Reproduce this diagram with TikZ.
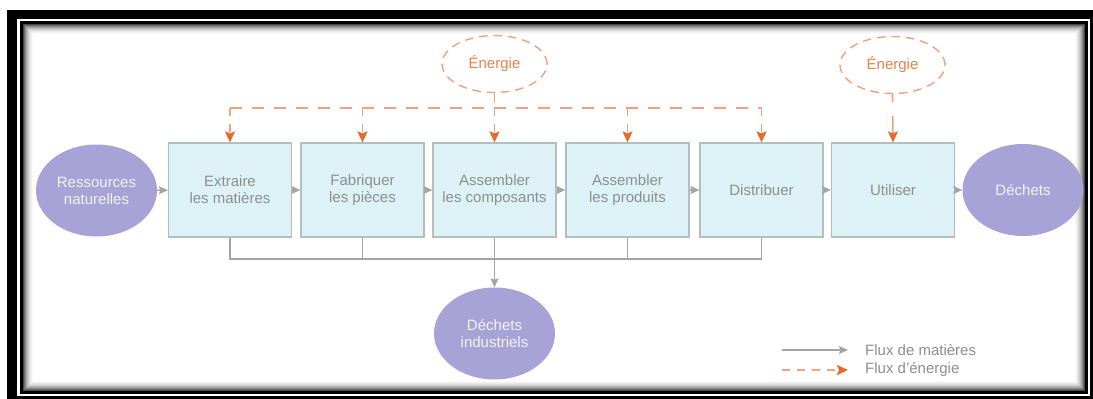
\documentclass[tikz,border=0pt]{standalone}
\usepackage{fontspec}
\setmainfont{Liberation Sans}
\usetikzlibrary{arrows.meta,shapes.geometric}
\definecolor{boxfill}{HTML}{DDF2F6}
\definecolor{boxline}{HTML}{B4BEC0}
\definecolor{lav}{HTML}{A8A3D6}
\definecolor{lavtext}{HTML}{F4F2FB}
\definecolor{txtgray}{HTML}{8E8E8E}
\definecolor{flowgray}{HTML}{A4A4A4}
\definecolor{orangedark}{HTML}{E8692A}
\definecolor{orangelight}{HTML}{F0A27A}
\definecolor{orangetxt}{HTML}{E4824C}

\begin{document}
\begin{tikzpicture}[x=1pt,y=-1pt,
  every node/.style={font=\fontsize{15}{17}\selectfont, inner sep=0pt},
  procbox/.style={rectangle, fill=boxfill, draw=boxline, line width=1.2pt,
    minimum width=123pt, minimum height=94pt, text=txtgray, align=center},
  resource/.style={ellipse, fill=lav, text=lavtext, align=center,
    minimum width=121pt, minimum height=92pt},
  energy/.style={ellipse, draw=orangelight, dash pattern=on 8.5pt off 5.9pt,
    line width=1.4pt, text=orangetxt, minimum width=105pt, minimum height=57pt},
  matflow/.style={draw=flowgray, line width=1.4pt},
  matarrow/.style={matflow, -{Stealth[length=9pt,width=8pt,inset=1.5pt]}},
  enflow/.style={draw=orangelight, line width=1.6pt, dash pattern=on 12pt off 10pt},
  enarrow/.style={draw=orangelight, line width=1.6pt,
    -{Stealth[length=11pt,width=10pt,inset=2pt,color=orangedark]}}
]
\useasboundingbox (0,0) rectangle (1093,399);

% framed border with inner shadow
\fill[black] (7,10) rectangle (1093,399);
\fill[white] (17,19) rectangle (1090,396);
\fill[black] (20,21) rectangle (1088,394);
\foreach \i/\c in {0/72,1/58,2/46,3/36,4/27,5/20,6/14,7/9,8/5,9/2}
  \fill[black!\c] (23+\i,24+\i) rectangle (1085-\i,391-\i);
\fill[white] (33,34) rectangle (1075,381);

% process chain
\node[resource] (src) at (96.5,190.5) {Ressources\\naturelles};
\node[procbox] (b1) at (230,190) {Extraire\\les matières};
\node[procbox] (b2) at (362.5,190) {Fabriquer\\les pièces};
\node[procbox] (b3) at (494.5,190) {Assembler\\les composants};
\node[procbox] (b4) at (627.5,190) {Assembler\\les produits};
\node[procbox] (b5) at (761.5,190) {Distribuer};
\node[procbox] (b6) at (893,190) {Utiliser};
\node[resource] (dw) at (1023,190) {Déchets};
\node[resource] (di) at (494.5,333.5) {Déchets\\industriels};

\draw[matarrow] (src) -- (b1);
\draw[matarrow] (b1) -- (b2);
\draw[matarrow] (b2) -- (b3);
\draw[matarrow] (b3) -- (b4);
\draw[matarrow] (b4) -- (b5);
\draw[matarrow] (b5) -- (b6);
\draw[matarrow] (b6) -- (dw);

% industrial waste collector
\coordinate (wbus) at (494.5,259);
\draw[matflow] (b1.south) -- (b1.south |- wbus) -- (b5.south |- wbus) -- (b5.south);
\draw[matflow] (b2.south) -- (b2.south |- wbus);
\draw[matflow] (b4.south) -- (b4.south |- wbus);
\draw[matarrow] (b3.south) -- (di.north);

% energy supply
\node[energy] (e1) at (494.5,64) {Énergie};
\node[energy] (e2) at (892.5,65) {Énergie};
\coordinate (ebus) at (494.5,108);
\draw[enflow, dash pattern=on 10pt off 10pt] (e1.south) -- (e1.south |- ebus);
\draw[enflow] (b1.north |- ebus) -- (b5.north |- ebus);
\foreach \b in {b1,b2,b3,b4,b5}
  \draw[enarrow, dash pattern=on 8pt off 8pt] (\b.north |- ebus) -- (\b.north);
\draw[enarrow, dash pattern=on 8pt off 14pt on 40pt off 0pt] (e2.south) -- (b6.north);

% legend
\node[anchor=west, text=txtgray] (lg1) at (865,350) {Flux de matières};
\node[anchor=west, text=txtgray] (lg2) at (865,370) {Flux d'énergie};
\coordinate (lg1s) at (782,350);
\coordinate (lg2s) at (782,370);
\draw[matarrow, line width=1.2pt] (lg1s) -- ([xshift=-17pt]lg1.west);
\draw[enarrow, dash pattern=on 8pt off 7pt] (lg2s) -- ([xshift=-17pt]lg2.west);
\end{tikzpicture}
\end{document}
